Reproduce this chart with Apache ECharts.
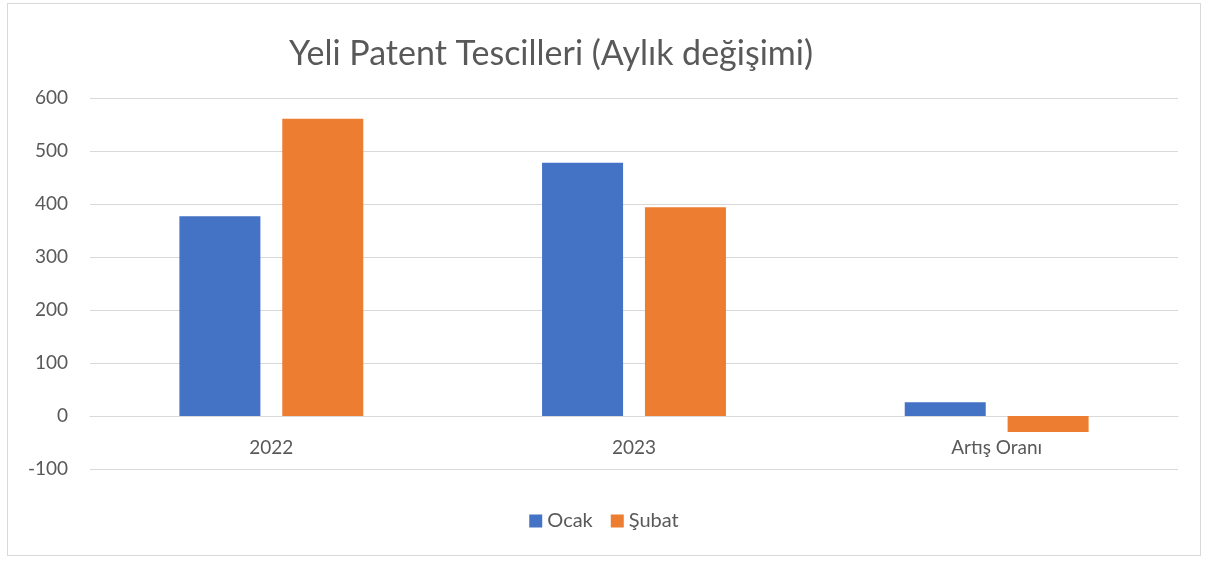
<!DOCTYPE html>
<html>
<head>
<meta charset="utf-8">
<script src="https://cdn.jsdelivr.net/npm/echarts@6/dist/echarts.min.js"></script>
<style>
  html, body { margin: 0; padding: 0; background: #fff; }
  #frame { position: absolute; left: 7px; top: 3px; width: 1192px; height: 551px; border: 1px solid #d9d9d9; }
  #main { position: absolute; left: 0; top: 0; width: 1208px; height: 563px; }
</style>
</head>
<body>
<div id="frame"></div>
<div id="main"></div>
<script>
const categories = ['2022', '2023', 'Artış Oranı'];
const ocak = [377, 478, 26];
const subat = [561, 394, -30];
const yTicks = [-100, 0, 100, 200, 300, 400, 500, 600];

const myChart = echarts.init(document.getElementById('main'));
const font = 'Lato, "Open Sans", sans-serif';
const option = {
    animation: false,
    title: {
        text: 'Yeli Patent Tescilleri (Aylık değişimi)',
        left: 546,
        top: 32,
        textAlign: 'center',
        textStyle: { fontFamily: font, fontSize: 34, fontWeight: 'normal', color: '#595959' }
    },
    legend: {
        data: ['Ocak', 'Şubat'],
        bottom: 27,
        left: 'center',
        itemWidth: 13,
        itemHeight: 13,
        itemGap: 18,
        icon: 'rect',
        textStyle: { fontFamily: font, fontSize: 20, color: '#595959' }
    },
    grid: { left: 90, right: 30, top: 98, bottom: 94 },
    xAxis: {
        type: 'category',
        data: categories,
        offset: -53,
        axisLine: { show: true, lineStyle: { color: '#d9d9d9' } },
        axisTick: { show: false },
        axisLabel: { fontFamily: font, fontSize: 19, color: '#595959', margin: 22 }
    },
    yAxis: {
        type: 'value',
        min: yTicks[0],
        max: yTicks[yTicks.length - 1],
        interval: 100,
        axisLabel: { fontFamily: font, fontSize: 19, color: '#595959', margin: 22 },
        splitLine: { lineStyle: { color: '#d9d9d9', width: 1 } }
    },
    series: [
        { name: 'Ocak', type: 'bar', data: ocak, barWidth: 81, barGap: '27%', itemStyle: { color: '#4472c4' } },
        { name: 'Şubat', type: 'bar', data: subat, barWidth: 81, itemStyle: { color: '#ed7d31' } }
    ]
};
myChart.setOption(option, true);
window.addEventListener('resize', function () { myChart.resize(); });
</script>
</body>
</html>
